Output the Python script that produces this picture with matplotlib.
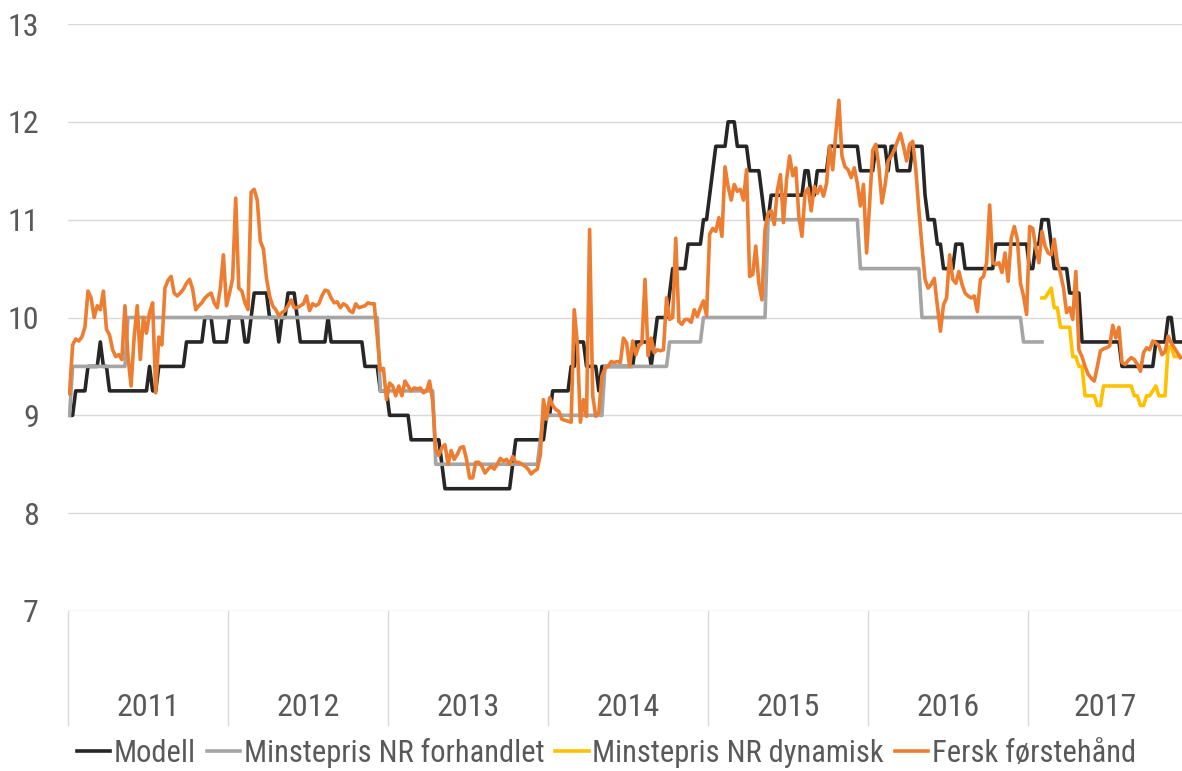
import numpy as np
import matplotlib
matplotlib.use("Agg")
from matplotlib import pyplot as plt
from matplotlib import font_manager

narrow = [f for f in ['Liberation Sans Narrow', 'Roboto Condensed', 'Open Sans Condensed']
          if any(e.name == f for e in font_manager.fontManager.ttflist)]
plt.rcParams['font.family'] = narrow + ['Liberation Sans', 'DejaVu Sans']
txt_size = 23 if narrow else 20
legend_size = 22 if narrow else 19

years = ["2011", "2012", "2013", "2014", "2015", "2016", "2017"]
weeks_per_year = [52, 52, 52, 52, 52, 52, 50]

# Modell: (price level, number of weeks) runs
modell_levels = [
    9.0, 9.25, 9.5, 9.75, 9.5, 9.25, 9.5, 9.25, 9.5, 9.75, 10.0, 9.75,
    10.0, 9.75, 10.0, 10.25, 10.0, 9.75, 10.0, 10.25, 10.0, 9.75, 10.0, 9.75, 9.5, 9.25,
    9.0, 8.75, 8.5, 8.25, 8.5, 8.75, 9.0,
    9.0, 9.25, 9.5, 9.75, 9.5, 9.25, 9.5, 9.75, 9.5, 9.75, 10.0, 10.25, 10.5, 10.75, 11.0,
    11.25, 11.5, 11.75, 12.0, 11.75, 11.5, 11.25, 11.0, 11.25, 11.5, 11.25, 11.5, 11.75, 11.5,
    11.5, 11.75, 11.5, 11.75, 11.5, 11.75, 11.25, 11.0, 10.75, 10.5, 10.75, 10.5, 10.75,
    10.5, 10.75, 11.0, 10.75, 10.5, 10.25, 9.75, 9.5, 9.75, 10.0, 9.75,
]
modell_weeks = [
    2, 4, 4, 1, 2, 13, 1, 2, 9, 6, 3, 5,
    5, 2, 1, 5, 3, 1, 2, 3, 1, 9, 1, 11, 5, 3,
    7, 10, 1, 22, 1, 10, 1,
    1, 6, 2, 3, 4, 1, 11, 5, 1, 1, 4, 1, 5, 5, 2,
    1, 1, 4, 3, 4, 4, 1, 2, 11, 2, 2, 4, 10, 3,
    2, 4, 1, 2, 5, 4, 1, 3, 2, 4, 3, 10, 11,
    2, 2, 3, 1, 5, 4, 13, 11, 4, 2, 3,
]

# Minstepris NR forhandlet: (price level, number of weeks) runs, ends early 2017
forhandlet_levels = [9.0, 9.5, 10.0, 9.25, 8.5, 8.75, 9.0, 9.5, 9.75, 10.0, 11.0, 10.5, 10.0, 9.75]
forhandlet_weeks = [1, 18, 82, 18, 34, 1, 20, 21, 11, 21, 30, 20, 33, 7]

# Minstepris NR dynamisk, weekly from week 5 of 2017
dynamisk_first_week_2017 = 4
dynamisk = [10.2, 10.2, 10.25, 10.3, 10.1, 10.1, 9.9, 9.9, 9.9, 9.9, 9.6, 9.6, 9.5, 9.5,
            9.2, 9.2, 9.2, 9.2, 9.1, 9.1, 9.3, 9.3, 9.3, 9.3, 9.3, 9.3, 9.3, 9.3, 9.3, 9.3,
            9.2, 9.2, 9.1, 9.1, 9.2, 9.2, 9.25, 9.3, 9.2, 9.2, 9.2, 9.7, 9.7, 9.6, 9.6, 9.6]

# Fersk førstehånd, weekly
fersk_2011 = [9.22, 9.72, 9.78, 9.76, 9.8, 9.9, 10.27, 10.2, 10.0, 10.12, 10.08, 10.27, 9.88,
              9.82, 9.67, 9.6, 9.62, 9.57, 10.12, 9.6, 9.3, 9.8, 10.12, 9.57, 10.0, 9.84, 10.05,
              10.15, 9.23, 9.8, 9.72, 10.3, 10.38, 10.42, 10.25, 10.22, 10.25, 10.29, 10.35,
              10.39, 10.29, 10.08, 10.12, 10.15, 10.2, 10.23, 10.25, 10.15, 10.1, 10.3, 10.64, 10.12]
fersk_2012 = [10.25, 10.4, 11.22, 10.3, 10.27, 10.15, 10.08, 11.28, 11.31, 11.2, 10.78, 10.7,
              10.4, 10.22, 10.12, 10.08, 10.02, 10.05, 10.07, 10.12, 10.18, 10.1, 10.1, 10.12,
              10.14, 10.22, 10.07, 10.14, 10.12, 10.14, 10.22, 10.28, 10.27, 10.2, 10.15, 10.16,
              10.1, 10.14, 10.12, 10.07, 10.05, 10.14, 10.1, 10.11, 10.12, 10.15, 10.14, 10.14,
              9.8, 9.46, 9.48, 9.16]
fersk_2013 = [9.33, 9.3, 9.2, 9.3, 9.2, 9.35, 9.3, 9.25, 9.28, 9.27, 9.28, 9.23, 9.25, 9.35,
              9.15, 8.65, 8.59, 8.67, 8.7, 8.5, 8.64, 8.55, 8.6, 8.67, 8.68, 8.55, 8.36, 8.36,
              8.52, 8.52, 8.48, 8.41, 8.45, 8.48, 8.45, 8.5, 8.56, 8.53, 8.55, 8.5, 8.58, 8.52,
              8.52, 8.5, 8.48, 8.45, 8.4, 8.43, 8.45, 8.6, 9.16, 8.96]
fersk_2014 = [9.18, 9.1, 9.06, 9.04, 8.96, 8.95, 8.94, 8.93, 10.08, 9.74, 8.93, 9.16, 8.99,
              10.9, 9.2, 8.99, 9.03, 9.4, 9.48, 9.5, 9.55, 9.54, 9.55, 9.54, 9.79, 9.74, 9.5,
              9.76, 9.62, 9.71, 9.74, 10.39, 9.61, 9.79, 9.64, 9.67, 9.66, 9.67, 10.2, 9.98,
              10.0, 10.81, 9.96, 9.93, 9.98, 9.98, 9.95, 10.08, 10.01, 10.1, 10.17, 10.02]
fersk_2015 = [10.85, 10.91, 10.88, 11.02, 10.83, 11.54, 11.34, 11.2, 11.36, 11.29, 11.31, 11.2,
              11.51, 10.42, 10.44, 10.73, 10.35, 10.18, 10.9, 11.07, 11.09, 10.95, 11.3, 11.46,
              10.97, 11.41, 11.65, 11.45, 11.53, 11.03, 10.83, 11.27, 11.32, 11.09, 11.34,
              11.27, 11.34, 11.24, 11.37, 11.75, 11.51, 11.88, 12.22, 11.65, 11.54, 11.51,
              11.43, 11.53, 11.37, 11.14, 11.36, 10.66]
fersk_2016 = [11.17, 11.71, 11.77, 11.54, 11.17, 11.35, 11.6, 11.65, 11.71, 11.8, 11.88, 11.75,
              11.6, 11.77, 11.8, 11.51, 11.1, 10.73, 10.39, 10.3, 10.34, 10.4, 10.12, 9.86,
              10.13, 10.2, 10.64, 10.39, 10.35, 10.47, 10.34, 10.25, 10.22, 10.2, 10.22, 10.06,
              10.39, 10.42, 10.56, 11.15, 10.56, 10.54, 10.56, 10.46, 10.66, 10.37, 10.81,
              10.93, 10.8, 10.35, 10.22, 10.03]
fersk_2017 = [10.93, 10.91, 10.71, 10.56, 10.88, 10.73, 10.66, 10.64, 10.8, 10.56, 10.45, 10.3,
              10.05, 10.1, 9.98, 10.47, 9.67, 9.6, 9.5, 9.42, 9.38, 9.35, 9.5, 9.66, 9.68, 9.69,
              9.71, 9.92, 9.79, 9.9, 9.54, 9.52, 9.56, 9.59, 9.57, 9.52, 9.45, 9.64, 9.69, 9.67,
              9.76, 9.74, 9.71, 9.62, 9.65, 9.81, 9.74, 9.69, 9.64, 9.59]


n_weeks = sum(weeks_per_year)
x = np.arange(n_weeks) + 0.5

modell = np.repeat(modell_levels, modell_weeks)

forhandlet = np.full(n_weeks, np.nan)
forhandlet_vals = np.repeat(forhandlet_levels, forhandlet_weeks)
forhandlet[:len(forhandlet_vals)] = forhandlet_vals

start_2017 = sum(weeks_per_year[:-1])
dyn = np.full(n_weeks, np.nan)
i0 = start_2017 + dynamisk_first_week_2017
dyn[i0:i0 + len(dynamisk)] = dynamisk

fersk = np.array(fersk_2011 + fersk_2012 + fersk_2013 + fersk_2014
                 + fersk_2015 + fersk_2016 + fersk_2017)

W, H = 1182, 771
fig = plt.figure(figsize=(W / 100, H / 100), dpi=100)
ax = fig.add_axes([68 / W, 1 - 611 / H, (W - 68) / W, (611 - 24) / H])

lw = 2.6
ax.plot(x, modell, color='#262626', lw=lw, label='Modell', solid_joinstyle='round')
ax.plot(x, forhandlet, color='#A5A5A5', lw=lw, label='Minstepris NR forhandlet', solid_joinstyle='round')
ax.plot(x, dyn, color='#FFC000', lw=lw, label='Minstepris NR dynamisk', solid_joinstyle='round')
ax.plot(x, fersk, color='#ED7D31', lw=lw, label='Fersk førstehånd', solid_joinstyle='round')

ax.set_xlim(0, n_weeks)
ax.set_ylim(7, 13)
ax.set_yticks(range(7, 14))
ax.set_xticks([])
ax.grid(axis='y', color='#D9D9D9', lw=1)
ax.set_axisbelow(True)
for s in ax.spines.values():
    s.set_visible(False)
ax.tick_params(axis='y', length=0, pad=21, labelsize=txt_size, labelcolor='#595959')

# year separators below the plot and year labels
sep_bottom = -(725 - 611) / (611 - 24)
bounds = np.cumsum([0] + weeks_per_year)
for b in bounds[:-1]:
    ax.plot([b, b], [0, sep_bottom], transform=ax.get_xaxis_transform(),
            color='#D9D9D9', lw=1, clip_on=False)
for yr, a, b in zip(years, bounds[:-1], bounds[1:]):
    ax.text((a + b) / 2, -(708 - 611) / (611 - 24), yr, transform=ax.get_xaxis_transform(),
            ha='center', va='center', fontsize=txt_size, color='#595959')

fig.legend(loc='center', bbox_to_anchor=(0.513, 1 - 753 / H), ncol=4, frameon=False,
           fontsize=legend_size, handlelength=1.1, handletextpad=0.12, columnspacing=0.35,
           labelcolor='#595959')

fig.savefig('out.png', dpi=100)
